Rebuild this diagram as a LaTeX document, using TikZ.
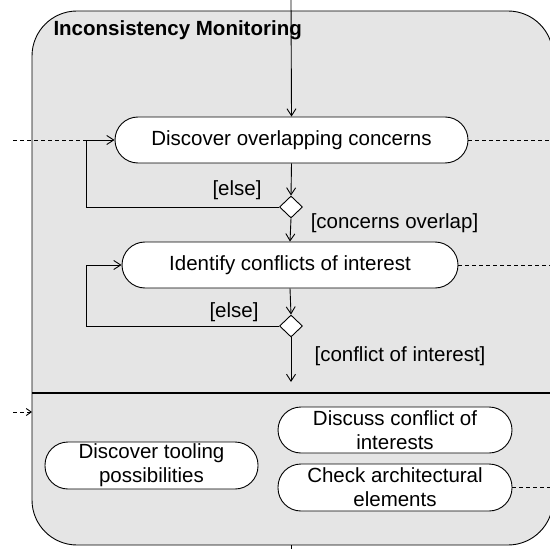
\documentclass[tikz,border=0pt]{standalone}
\usepackage{fontspec}
\setmainfont{Liberation Sans}
\usetikzlibrary{shapes.geometric,arrows.meta}
\definecolor{panel}{RGB}{229,229,229}
\begin{document}
\begin{tikzpicture}[x=1bp,y=-1bp,
  font=\fontsize{20.5bp}{24bp}\selectfont,
  thinline/.style={line width=0.9bp},
  act/.style={thinline, draw, fill=white, rounded corners=23bp, minimum height=46bp,
    inner sep=0pt, align=center},
  dec/.style={thinline, draw, fill=white, diamond, minimum width=23bp, minimum height=22bp,
    inner sep=0pt},
  flow/.style={thinline, -{Straight Barb[length=7bp,width=9bp]}},
  objflow/.style={thinline, dashed, dash pattern=on 4bp off 3bp},
  guard/.style={inner sep=0pt}
]
\useasboundingbox (0,0) rectangle (550,549);
\begin{scope}
\clip (0,0) rectangle (550,549);
% activity partition
\draw[thinline, fill=panel, rounded corners=45bp] (32,11) rectangle (553,545);
\draw[line width=2bp] (32,393) -- (553,393);
\end{scope}

\node[anchor=base west, font=\fontsize{20.5bp}{24bp}\selectfont\bfseries] (title) at (50,36) {Inconsistency Monitoring};

% actions
\node[act, minimum width=353bp] (discover) at (291.5,140) {Discover overlapping concerns};
\node[act, minimum width=336bp] (identify) at (290,265) {Identify conflicts of interest};
\node[dec] (d1) at (291,207) {};
\node[dec] (d2) at (291,326) {};
\node[act, minimum width=213bp, minimum height=47bp] (tooling) at (151.5,465.5) {Discover tooling\\possibilities};
\node[act, minimum width=234bp] (discuss) at (395,430) {Discuss conflict of\\interests};
\node[act, minimum width=234bp, minimum height=47bp] (check) at (395,487.5) {Check architectural\\elements};

% guards
\node[guard] (g1) at (237,190) {[else]};
\node[guard] (g2) at (394.5,223) {[concerns overlap]};
\node[guard] (g3) at (234,312) {[else]};
\node[guard] (g4) at (400,356) {[conflict of interest]};

% free ends
\coordinate (topin) at (291,0);
\coordinate (leftin) at (13,140);
\coordinate (loop1a) at (86,207);
\coordinate (loop1b) at (86,140);
\coordinate (loop2a) at (86,326);
\coordinate (loop2b) at (86,265);
\coordinate (flowout) at (291,382);
\coordinate (botout) at (291,545);
\coordinate (botend) at (291,549);
\coordinate (in2a) at (13,412);
\coordinate (in2b) at (32,412);
\coordinate (out1) at (550,140);
\coordinate (out2) at (550,265);
\coordinate (out3) at (550,487.5);

% control flow
\draw[flow] (topin) -- (discover.north);
\draw[flow] (discover.south) -- (d1.north);
\draw[flow] (d1.south) -- (identify.north);
\draw[flow] (d1.west) -- (loop1a) -- (loop1b) -- (discover.west);
\draw[flow] (identify.south) -- (d2.north);
\draw[flow] (d2.west) -- (loop2a) -- (loop2b) -- (identify.west);
\draw[flow] (d2.south) -- (flowout);
\draw[thinline] (botout) -- (botend);

% object flows
\draw[objflow] (leftin) -- (loop1b);
\draw[objflow] (discover.east) -- (out1);
\draw[objflow] (identify.east) -- (out2);
\draw[objflow] (check.east) -- (out3);
\draw[objflow, -{Straight Barb[length=5bp,width=7bp]}] (in2a) -- (in2b);
\end{tikzpicture}
\end{document}
